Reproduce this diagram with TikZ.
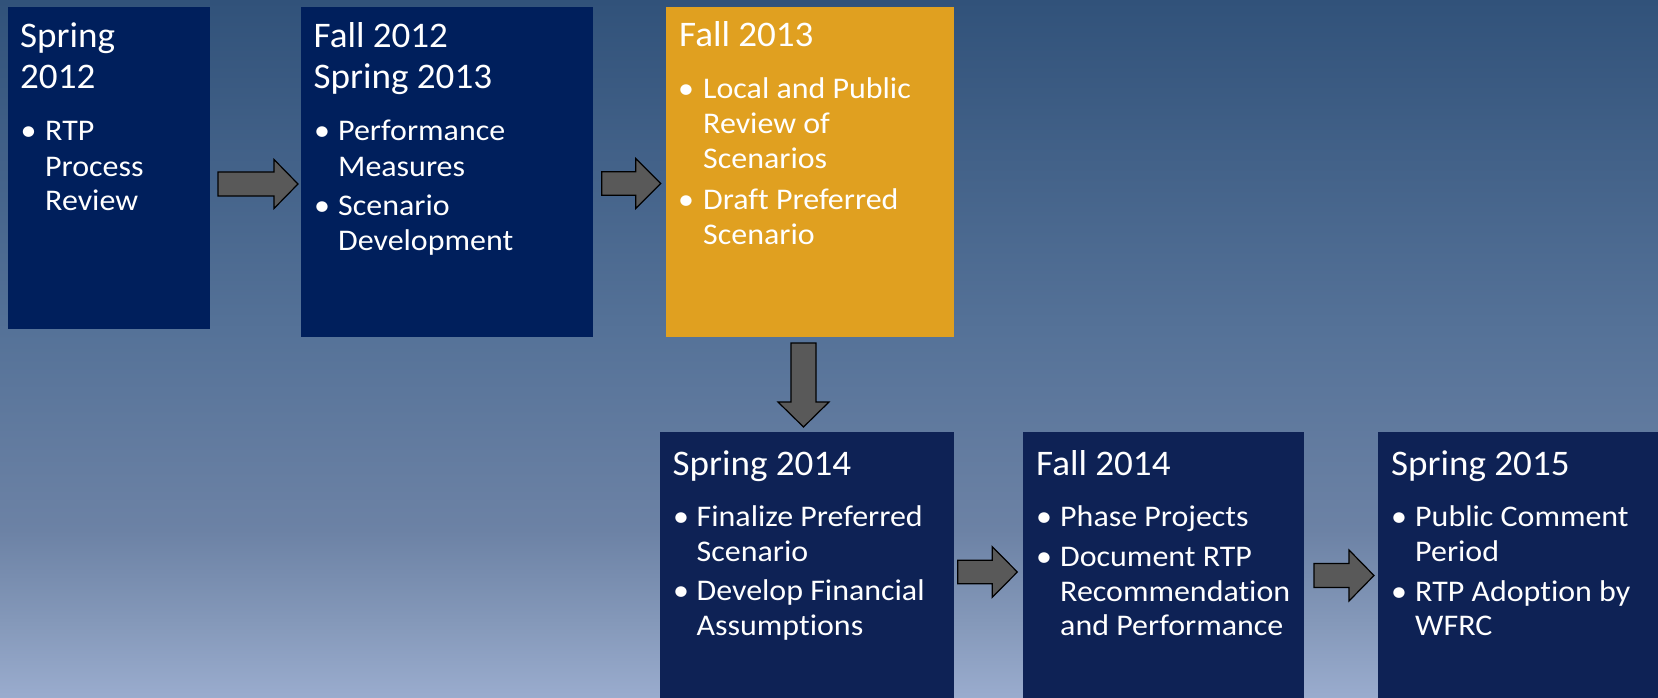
\documentclass[tikz,border=0pt]{standalone}
\usepackage{fontspec}
\setmainfont[Ligatures=NoCommon]{Carlito}
\newfontfamily\ttlfont[FakeStretch=1.03,Ligatures=NoCommon]{Carlito}
\newfontfamily\bltfont[FakeStretch=1.065,Ligatures=NoCommon]{Carlito}
\definecolor{navyA}{HTML}{001F5C}
\definecolor{navyB}{HTML}{0E2255}
\definecolor{gold}{HTML}{E0A020}
\definecolor{arrowgray}{HTML}{595959}
\definecolor{bgA}{HTML}{31527A}
\definecolor{bgB}{HTML}{557298}
\definecolor{bgC}{HTML}{6C82A5}
\definecolor{bgD}{HTML}{8498B9}
\definecolor{bgE}{HTML}{9AACCE}
\tikzset{
  box/.style={rectangle, draw=none, inner sep=0pt, anchor=north west},
  ttl/.style={text=white, inner sep=0pt, anchor=base west, font=\ttlfont\fontsize{36}{40}\selectfont},
  blt/.style={text=white, inner sep=0pt, anchor=base west, font=\bltfont\fontsize{30}{35}\selectfont},
  blockarrow/.style={draw=black, line width=1.2pt, fill=arrowgray, line join=miter},
}
% horizontal block arrow: tail x, head-base x, tip x, centre y, shaft half, head half
\newcommand{\harrow}[6]{\draw[blockarrow] (#1,#4-#5) -- (#2,#4-#5) -- (#2,#4-#6) -- (#3,#4) -- (#2,#4+#6) -- (#2,#4+#5) -- (#1,#4+#5) -- cycle;}
% vertical block arrow: centre x, tail y, head-base y, tip y, shaft half, head half
\newcommand{\varrow}[6]{\draw[blockarrow] (#1-#5,#2) -- (#1-#5,#3) -- (#1-#6,#3) -- (#1,#4) -- (#1+#6,#3) -- (#1+#5,#3) -- (#1+#5,#2) -- cycle;}
\begin{document}
\begin{tikzpicture}[x=1pt,y=-1pt]
\useasboundingbox (0,0) rectangle (1658,698);
% background
\shade[top color=bgA, bottom color=bgB] (0,0) rectangle (1658,330.5);
\shade[top color=bgB, bottom color=bgC] (0,330) rectangle (1658,530.5);
\shade[top color=bgC, bottom color=bgD] (0,530) rectangle (1658,620.5);
\shade[top color=bgD, bottom color=bgE] (0,620) rectangle (1658,698);

% boxes
\node[box, fill=navyA, minimum width=202.5pt, minimum height=322pt] (b1) at (7.5,7) {};
\node[box, fill=navyA, minimum width=291.7pt, minimum height=330pt] (b2) at (301,7) {};
\node[box, fill=gold,  minimum width=288pt,   minimum height=330pt] (b3) at (666,7) {};
\node[box, fill=navyB, minimum width=294pt,   minimum height=266pt] (b4) at (660,432) {};
\node[box, fill=navyB, minimum width=281pt,   minimum height=266pt] (b5) at (1023,432) {};
\node[box, fill=navyB, minimum width=280pt,   minimum height=266pt] (b6) at (1378,432) {};

% arrows
\coordinate (a1s) at (218,184);   \coordinate (a1e) at (298,184);
\harrow{218}{274}{298}{184}{12}{24.5}
\coordinate (a2s) at (601.7,183.5); \coordinate (a2e) at (660.7,183.5);
\harrow{601.7}{635.7}{660.7}{183.5}{11.7}{25}
\coordinate (ads) at (803.5,343); \coordinate (ade) at (803.5,427);
\varrow{803.5}{343}{402}{427}{12.5}{25.5}
\coordinate (a3s) at (957.7,572); \coordinate (a3e) at (1017.3,572);
\harrow{957.7}{992.3}{1017.3}{572}{11.7}{25.3}
\coordinate (a4s) at (1314,575.5); \coordinate (a4e) at (1374,575.5);
\harrow{1314}{1349}{1374}{575.5}{12}{25.5}

% box 1
\node[ttl] (t1a) at (20,48) {Spring};
\node[ttl] (t1b) at (20,89) {2012};
\node[blt] (d1a) at (20.5,141) {•};
\node[blt] (l1a) at (45,141) {RTP};
\node[blt] (l1b) at (45,176) {Process};
\node[blt] (l1c) at (45,211) {Review};

% box 2
\node[ttl] (t2a) at (313.5,48) {Fall 2012};
\node[ttl] (t2b) at (313.5,89) {Spring 2013};
\node[blt] (d2a) at (314,141) {•};
\node[blt] (l2a) at (338,141) {Performance};
\node[blt] (l2b) at (338,176) {Measures};
\node[blt] (d2b) at (314,215) {•};
\node[blt] (l2c) at (338,215) {Scenario};
\node[blt] (l2d) at (338,250) {Development};

% box 3
\node[ttl] (t3a) at (679,47) {Fall 2013};
\node[blt] (d3a) at (678,99) {•};
\node[blt] (l3a) at (703,99) {Local and Public};
\node[blt] (l3b) at (703,134) {Review of};
\node[blt] (l3c) at (703,169) {Scenarios};
\node[blt] (d3b) at (678,209) {•};
\node[blt] (l3d) at (703,209) {Draft Preferred};
\node[blt] (l3e) at (703,244) {Scenario};

% box 4
\node[ttl] (t4a) at (672.5,475) {Spring 2014};
\node[blt] (d4a) at (673,526) {•};
\node[blt] (l4a) at (696.5,526) {Finalize Preferred};
\node[blt] (l4b) at (696.5,561) {Scenario};
\node[blt] (d4b) at (673,600) {•};
\node[blt] (l4c) at (696.5,600) {Develop Financial};
\node[blt] (l4d) at (696.5,635) {Assumptions};

% box 5
\node[ttl] (t5a) at (1036,475) {Fall 2014};
\node[blt] (d5a) at (1036,526) {•};
\node[blt] (l5a) at (1060,526) {Phase Projects};
\node[blt] (d5b) at (1036,566) {•};
\node[blt] (l5b) at (1060,566) {Document RTP};
\node[blt] (l5c) at (1060,601) {Recommendation};
\node[blt] (l5d) at (1060,635) {and Performance};

% box 6
\node[ttl] (t6a) at (1391,475) {Spring 2015};
\node[blt] (d6a) at (1391,526) {•};
\node[blt] (l6a) at (1415,526) {Public Comment};
\node[blt] (l6b) at (1415,561) {Period};
\node[blt] (d6b) at (1391,601) {•};
\node[blt] (l6c) at (1415,601) {RTP Adoption by};
\node[blt] (l6d) at (1415,635) {WFRC};
\end{tikzpicture}
\end{document}
